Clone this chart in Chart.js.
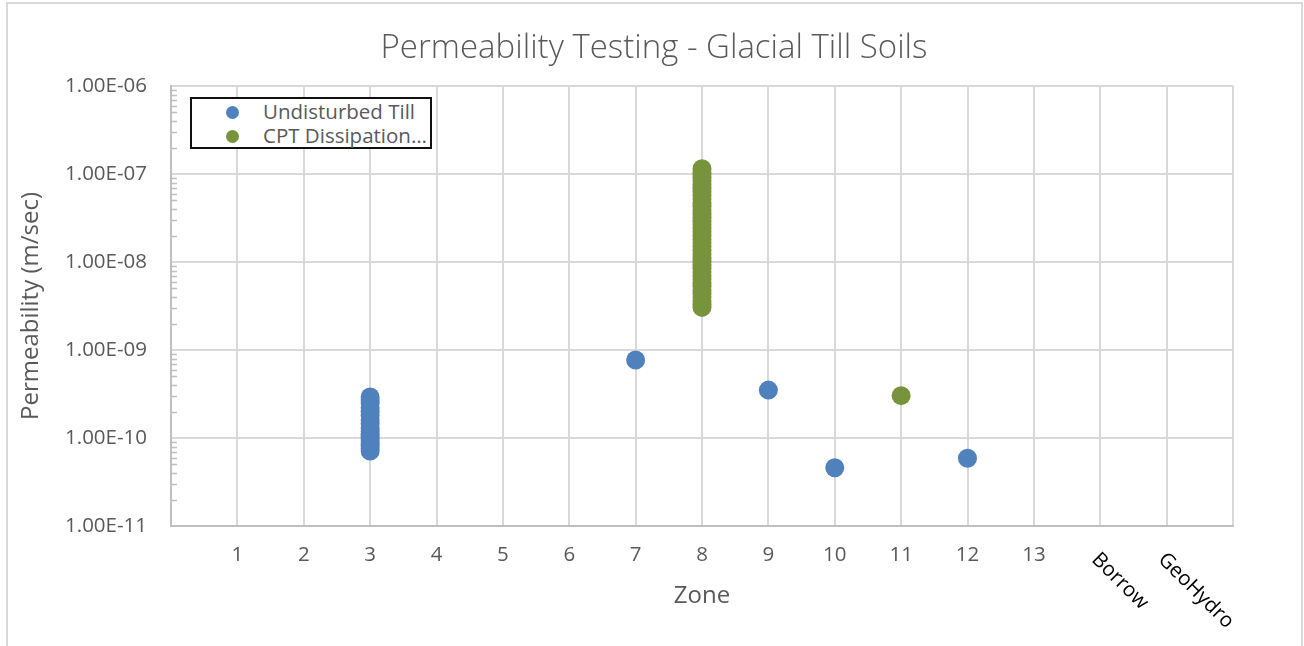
<!DOCTYPE html>
<html>
<head>
<meta charset="utf-8">
<script src="https://cdn.jsdelivr.net/npm/chart.js@4.4.1/dist/chart.umd.min.js"></script>
<style>
  html, body { margin: 0; padding: 0; background: #fff; }
  #wrap { position: relative; width: 1304px; height: 646px; overflow: hidden; }
  #title { position: absolute; left: 0; width: 1308px; top: 23px; text-align: center;
           font: 300 33px "Open Sans", sans-serif; color: #595959; white-space: nowrap; }
  #legend { position: absolute; left: 190px; top: 97px; width: 238px; height: 48px;
            border: 2px solid #111; background: #fff; }
  .item { position: absolute; left: 0; height: 24px; font: 20.5px "Open Sans", sans-serif;
          color: #595959; white-space: nowrap; }
  .dot { position: absolute; left: 34px; top: 6px; width: 13px; height: 13px; border-radius: 50%; }
  .txt { position: absolute; left: 71px; top: -1px; line-height: 24px; }
</style>
</head>
<body>
<div id="wrap">
  <canvas id="chart" width="1304" height="646"></canvas>
  <div id="title">Permeability Testing - Glacial Till Soils</div>
  <div id="legend"></div>
</div>
<script>
// --- DATA ---
const categories = ['1', '2', '3', '4', '5', '6', '7', '8', '9', '10', '11', '12', '13', 'Borrow', 'GeoHydro'];

// Undisturbed Till: zone and permeability values (m/sec)
const tillZones = ['3', '7', '9', '10', '12'];
const tillValues = [
  [7.1e-11, 7.6e-11, 8.2e-11, 8.8e-11, 9.5e-11, 1.02e-10, 1.1e-10, 1.2e-10, 1.3e-10,
   1.45e-10, 1.6e-10, 1.8e-10, 2.0e-10, 2.2e-10, 2.5e-10, 2.7e-10, 2.92e-10],
  [7.7e-10],
  [3.5e-10],
  [4.6e-11],
  [5.9e-11]
];

// CPT Dissipation
const cptZones = ['8', '11'];
const cptValues = [
  [3.05e-9, 3.3e-9, 3.6e-9, 4.0e-9, 4.4e-9, 4.8e-9, 5.3e-9, 5.8e-9, 6.4e-9, 7.0e-9,
   7.7e-9, 8.5e-9, 9.3e-9, 1.02e-8, 1.12e-8, 1.23e-8, 1.35e-8, 1.5e-8, 1.65e-8, 1.8e-8,
   2.0e-8, 2.2e-8, 2.4e-8, 2.65e-8, 2.9e-8, 3.2e-8, 3.5e-8, 3.9e-8, 4.3e-8, 4.7e-8,
   5.2e-8, 5.7e-8, 6.3e-8, 6.9e-8, 7.6e-8, 8.4e-8, 9.2e-8, 1.02e-7, 1.15e-7],
  [3.03e-10]
];

const yDecades = [1e-11, 1e-10, 1e-9, 1e-8, 1e-7, 1e-6];
const yMinorSteps = [2, 3, 4, 5, 6, 7, 8, 9];
const rotatedLabels = ['Borrow', 'GeoHydro'];

const seriesNames = ['Undisturbed Till', 'CPT Dissipation…'];
const seriesColors = ['#4F81BD', '#77933C'];

// --- HELPERS ---
function toPoints(zones, values) {
  const pts = [];
  zones.forEach((z, i) => {
    const xPos = categories.indexOf(z) + 1;
    values[i].forEach(v => pts.push({ x: xPos, y: v }));
  });
  return pts;
}

function isDecade(v) {
  const l = Math.log10(v);
  return Math.abs(l - Math.round(l)) < 1e-9;
}

function sciLabel(v) {
  const parts = v.toExponential(2).split('e');
  const exp = parseInt(parts[1], 10);
  return parts[0] + 'E' + (exp < 0 ? '-' : '+') + String(Math.abs(exp)).padStart(2, '0');
}

const gridColor = '#d9d9d9';
const axisColor = '#bfbfbf';
const labelColor = '#595959';
const fontFamily = '"Open Sans", sans-serif';
const tickSize = 20.5;

// outer chart border + minor tick marks + rotated category labels
const extras = {
  id: 'extras',
  beforeDraw(chart) {
    const c = chart.ctx;
    c.save();
    c.strokeStyle = gridColor;
    c.lineWidth = 2;
    c.strokeRect(7, 3, 1295, 700);
    c.restore();
  },
  afterDraw(chart) {
    const c = chart.ctx;
    const ys = chart.scales.y;
    const xs = chart.scales.x;
    c.save();
    c.strokeStyle = axisColor;
    c.lineWidth = 1.5;
    ys.ticks.forEach(t => {
      if (isDecade(t.value)) return;
      const py = Math.round(ys.getPixelForValue(t.value)) + 0.5;
      c.beginPath();
      c.moveTo(xs.left, py);
      c.lineTo(xs.left + 6, py);
      c.stroke();
    });
    c.fillStyle = '#000';
    c.font = tickSize + 'px ' + fontFamily;
    c.textAlign = 'left';
    c.textBaseline = 'top';
    rotatedLabels.forEach(lbl => {
      const px = xs.getPixelForValue(categories.indexOf(lbl) + 1);
      c.save();
      c.translate(px + 2, 549);
      c.rotate(Math.PI / 4);
      c.fillText(lbl, 0, 0);
      c.restore();
    });
    c.restore();
  }
};

const datasets = [
  { label: seriesNames[0], data: toPoints(tillZones, tillValues), backgroundColor: seriesColors[0] },
  { label: seriesNames[1], data: toPoints(cptZones, cptValues), backgroundColor: seriesColors[1] }
].map(d => Object.assign(d, { pointRadius: 9.5, pointHoverRadius: 9.5, borderWidth: 0, borderColor: d.backgroundColor }));

const chart = new Chart(document.getElementById('chart'), {
  type: 'scatter',
  data: { datasets: datasets },
  plugins: [extras],
  options: {
    responsive: false,
    animation: false,
    events: [],
    layout: { padding: { top: 86, right: 71, bottom: 0, left: 0 } },
    plugins: { legend: { display: false }, tooltip: { enabled: false }, title: { display: false } },
    scales: {
      x: {
        type: 'linear',
        min: 0,
        max: categories.length + 1,
        afterFit(s) { s.height = 120; },
        afterBuildTicks(s) {
          const t = [];
          for (let i = 0; i <= categories.length + 1; i++) t.push({ value: i });
          s.ticks = t;
        },
        ticks: {
          autoSkip: false, maxRotation: 0, minRotation: 0, padding: 17,
          color: labelColor, font: { family: fontFamily, size: tickSize },
          callback(v) {
            const lbl = categories[v - 1];
            return (lbl && rotatedLabels.indexOf(lbl) < 0) ? lbl : '';
          }
        },
        grid: { color: gridColor, lineWidth: 2, drawTicks: false },
        border: { color: axisColor, width: 2 },
        title: {
          display: true, text: 'Zone', color: labelColor,
          font: { family: fontFamily, size: 24 }, padding: { top: 0, bottom: 35 }
        }
      },
      y: {
        type: 'logarithmic',
        min: yDecades[0],
        max: yDecades[yDecades.length - 1],
        afterFit(s) { s.width = 171; },
        afterBuildTicks(s) {
          const t = [];
          yDecades.forEach((d, i) => {
            t.push({ value: d, major: true });
            if (i < yDecades.length - 1) yMinorSteps.forEach(m => t.push({ value: d * m, major: false }));
          });
          s.ticks = t;
        },
        ticks: {
          autoSkip: false, padding: 24,
          color: labelColor, font: { family: fontFamily, size: tickSize },
          callback(v) { return isDecade(v) ? sciLabel(v) : ''; }
        },
        grid: {
          drawTicks: false, lineWidth: 2,
          color(ctx) { return ctx.tick && isDecade(ctx.tick.value) ? gridColor : 'rgba(0,0,0,0)'; }
        },
        border: { color: axisColor, width: 2 },
        title: {
          display: true, text: 'Permeability (m/sec)', color: labelColor,
          font: { family: fontFamily, size: 24 }, padding: { top: 17, bottom: 0 }
        }
      }
    }
  }
});

// legend built from the chart datasets
const legendEl = document.getElementById('legend');
chart.data.datasets.forEach((ds, i) => {
  const row = document.createElement('div');
  row.className = 'item';
  row.style.top = (1 + i * 24) + 'px';
  row.innerHTML = '<span class="dot" style="background:' + ds.backgroundColor + '"></span><span class="txt">' + ds.label + '</span>';
  legendEl.appendChild(row);
});
</script>
</body>
</html>
